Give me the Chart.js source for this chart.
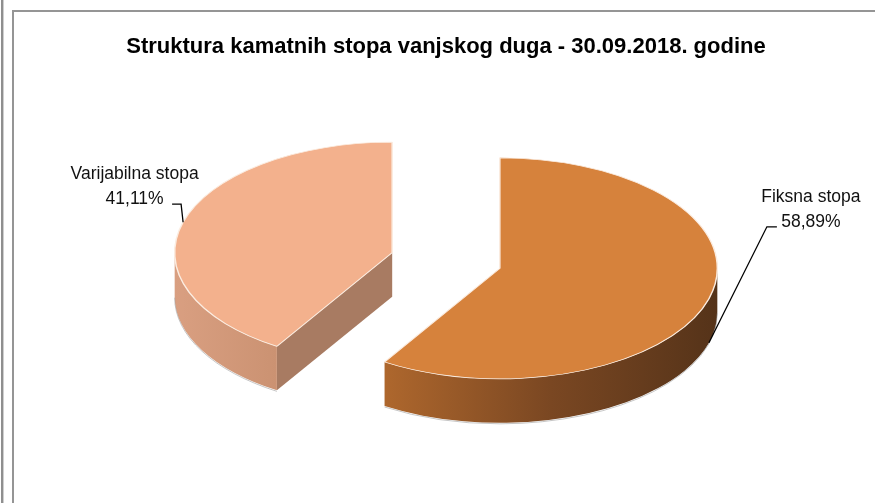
<!DOCTYPE html>
<html lang="hr">

<head>
    <meta charset="UTF-8">
    <title>Struktura kamatnih stopa vanjskog duga - 30.09.2018. godine</title>
    <script src="https://cdn.jsdelivr.net/npm/chart.js"></script>
    <style>
        body { margin: 0; background: #fff; }
        #okvir { position: relative; width: 875px; height: 503px; overflow: hidden; }
        #crta { position: absolute; left: 1px; top: 0; width: 3px; height: 503px; box-sizing: border-box;
                border-left: 2px solid #8f8f8f; border-right: 1px solid #cfcfcf; }
        #kutija { position: absolute; left: 12px; top: 10px; width: 900px; height: 600px; box-sizing: border-box;
                  border-left: 2px solid #959595; border-top: 2px solid #959595; }
        #graf { position: absolute; left: 0; top: 0; }
    </style>
</head>

<body>
    <div id="okvir">
        <div id="crta"></div>
        <div id="kutija"></div>
        <canvas id="graf" width="875" height="503"></canvas>
    </div>

    <script>
        // podaci
        const naslov = 'Struktura kamatnih stopa vanjskog duga - 30.09.2018. godine';
        const kategorije = ['Fiksna stopa', 'Varijabilna stopa'];
        const udjeli = [58.89, 41.11];

        // boje (vrh, bocna strana lijevo->desno, rez)
        const bojeVrh = ['#d6823c', '#f3b18d'];
        const bojeStrana = [['#ae672d', '#7a4722', '#553319'], ['#d99f81', '#cb9272']];
        const bojeRez = ['#8a5024', '#a87b62'];

        // 3D izgled
        const R = 217.5;       // polumjer
        const K = 0.508;       // spljostenost elipse
        const DUBINA = 44;     // visina "kolaca"
        const ODMAK = 56;      // razmicanje krisaka

        // polozaj natpisa u odnosu na tocku vodilice
        const oznake = [
            { dolje: true, lom: [58, -116], kraj: [68, -116], tekst: [102, -146] },
            { dolje: false, lom: [-2, -18], kraj: [-11, -18], tekst: [-48.5, -48.5] }
        ];

        function postotak(v) {
            return v.toFixed(2).replace('.', ',') + '%';
        }

        function sredina(chart) {
            const a = chart.chartArea;
            return { cx: (a.left + a.right) / 2, cy: (a.top + a.bottom) / 2 };
        }

        const pie3d = {
            id: 'pie3d',
            beforeDatasetsDraw(chart) {
                const ctx = chart.ctx;
                const { cx, cy } = sredina(chart);
                const arcs = chart.getDatasetMeta(0).data;

                // razmakni kriske
                arcs.forEach(arc => {
                    const mid = (arc.startAngle + arc.endAngle) / 2;
                    arc.x = cx + Math.cos(mid) * ODMAK;
                    arc.y = cy + Math.sin(mid) * ODMAK;
                });

                // bocne strane
                arcs.forEach((arc, i) => {
                    const ex = arc.x, ey = cy + (arc.y - cy) * K;
                    const r = arc.outerRadius, ry = r * K;
                    const s = arc.startAngle, e = arc.endAngle;

                    [[s, Math.cos(s) < -1e-6], [e, Math.cos(e) > 1e-6]].forEach(([kut, vidljivo]) => {
                        if (!vidljivo) return;
                        const px = ex + r * Math.cos(kut), py = ey + ry * Math.sin(kut);
                        ctx.beginPath();
                        ctx.moveTo(ex, ey);
                        ctx.lineTo(px, py);
                        ctx.lineTo(px, py + DUBINA);
                        ctx.lineTo(ex, ey + DUBINA);
                        ctx.closePath();
                        ctx.fillStyle = bojeRez[i];
                        ctx.fill();
                    });

                    for (let n = -1; n <= 2; n++) {
                        const lo = Math.max(s, 2 * Math.PI * n);
                        const hi = Math.min(e, 2 * Math.PI * n + Math.PI);
                        if (hi <= lo) continue;
                        const x0 = ex + r * Math.cos(hi), x1 = ex + r * Math.cos(lo);
                        const grad = ctx.createLinearGradient(x0, 0, x1, 0);
                        bojeStrana[i].forEach((b, j, arr) => grad.addColorStop(j / (arr.length - 1), b));
                        ctx.beginPath();
                        ctx.ellipse(ex, ey, r, ry, 0, lo, hi, false);
                        ctx.ellipse(ex, ey + DUBINA, r, ry, 0, hi, lo, true);
                        ctx.closePath();
                        ctx.fillStyle = grad;
                        ctx.fill();
                        ctx.strokeStyle = 'rgba(160,160,160,0.6)';
                        ctx.lineWidth = 1;
                        ctx.beginPath();
                        ctx.ellipse(ex, ey + DUBINA + 1, r, ry, 0, lo, hi, false);
                        ctx.stroke();
                    }
                });

                // vrh kolaca crta Chart.js u spljostenom koordinatnom sustavu
                ctx.save();
                ctx.translate(cx, cy);
                ctx.scale(1, K);
                ctx.translate(-cx, -cy);
            },
            afterDatasetsDraw(chart) {
                const ctx = chart.ctx;
                ctx.restore();

                const { cy } = sredina(chart);
                const arcs = chart.getDatasetMeta(0).data;
                arcs.forEach((arc, i) => {
                    const o = oznake[i];
                    const mid = (arc.startAngle + arc.endAngle) / 2;
                    const ex = arc.x, ey = cy + (arc.y - cy) * K;
                    const r = arc.outerRadius;
                    const ax = ex + r * Math.cos(mid);
                    const ay = ey + r * K * Math.sin(mid) + (o.dolje ? DUBINA : 0);

                    ctx.beginPath();
                    ctx.moveTo(ax, ay);
                    ctx.lineTo(ax + o.lom[0], ay + o.lom[1]);
                    ctx.lineTo(ax + o.kraj[0], ay + o.kraj[1]);
                    ctx.strokeStyle = '#000';
                    ctx.lineWidth = 1.3;
                    ctx.stroke();

                    ctx.fillStyle = '#111';
                    ctx.font = '17.5px "Liberation Sans", Arial, sans-serif';
                    ctx.textAlign = 'center';
                    ctx.textBaseline = 'middle';
                    ctx.fillText(chart.data.labels[i], ax + o.tekst[0], ay + o.tekst[1]);
                    ctx.fillText(postotak(chart.data.datasets[0].data[i]), ax + o.tekst[0], ay + o.tekst[1] + 25);
                });
            }
        };

        new Chart(document.getElementById('graf'), {
            type: 'pie',
            data: {
                labels: kategorije,
                datasets: [{
                    data: udjeli,
                    backgroundColor: bojeVrh,
                    borderColor: '#fbece0',
                    borderWidth: 1.5,
                    radius: R,
                    clip: false
                }]
            },
            options: {
                responsive: false,
                animation: false,
                events: [],
                layout: { padding: { left: 17, right: 0, top: 0, bottom: 42.4 } },
                plugins: {
                    legend: { display: false },
                    tooltip: { enabled: false },
                    title: {
                        display: true,
                        text: naslov,
                        color: '#000',
                        font: { family: '"Liberation Sans", Arial, sans-serif', size: 22, weight: 'bold' },
                        padding: { top: 34, bottom: 0 }
                    }
                }
            },
            plugins: [pie3d]
        });
    </script>
</body>

</html>
